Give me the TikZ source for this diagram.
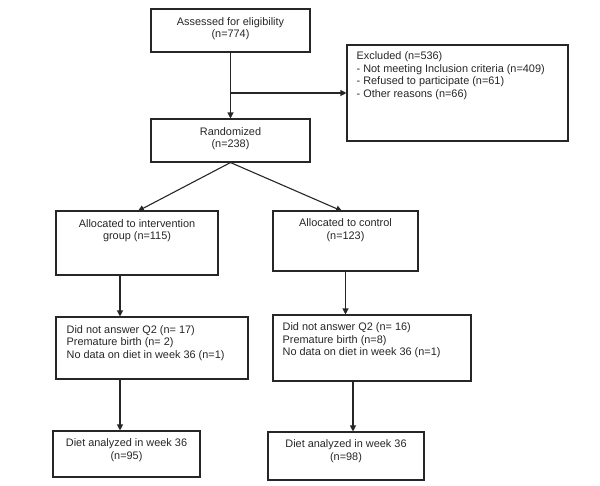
\documentclass[tikz,border=0pt]{standalone}
\usepackage{fontspec}
\setmainfont{Liberation Sans}
\usetikzlibrary{arrows.meta,positioning}
\begin{document}
\begin{tikzpicture}[x=1pt,y=-1pt,
  box/.style={draw=black!85,line width=1.1pt,rectangle,inner sep=0pt},
  txt/.style={inner sep=0pt,font=\fontsize{10.9}{12.5}\selectfont,text=black!85},
  ctxt/.style={txt,align=center},
  ltxt/.style={txt,align=left},
  conn/.style={draw=black!85,line width=1.1pt,-{Triangle[length=6pt,width=6pt]}}]
\useasboundingbox (0,0) rectangle (600,485);
% boxes
\node[box,minimum width=159pt,minimum height=43pt] (a) at (230.5,30.5) {};
\node[box,minimum width=221pt,minimum height=96pt] (ex) at (457.5,93) {};
\node[box,minimum width=159pt,minimum height=43pt] (r) at (230.5,140.5) {};
\node[box,minimum width=162pt,minimum height=64pt] (i) at (137,243) {};
\node[box,minimum width=145pt,minimum height=60pt] (c) at (345.5,241) {};
\node[box,minimum width=192pt,minimum height=62pt] (ql) at (152,348) {};
\node[box,minimum width=198pt,minimum height=66pt] (qr) at (372,348) {};
\node[box,minimum width=147pt,minimum height=46pt] (dl) at (126.5,454) {};
\node[box,minimum width=156pt,minimum height=48pt] (dr) at (346,456) {};
% texts
\node[ctxt,below=8.5pt of a.north] (ta) {Assessed for eligibility\\(n=774)};
\node[ltxt,anchor=north west] (tex) at ([xshift=10pt,yshift=-7pt]ex.north west) {Excluded (n=536)\\- Not meeting Inclusion criteria (n=409)\\- Refused to participate (n=61)\\- Other reasons (n=66)};
\node[ctxt,below=8.5pt of r.north] (tr) {Randomized\\(n=238)};
\node[ctxt,below=8.5pt of i.north] (ti) {Allocated to intervention\\group (n=115)};
\node[ctxt,below=8pt of c.north] (tc) {Allocated to control\\(n=123)};
\node[ltxt,anchor=north west] (tql) at ([xshift=11pt,yshift=-8.5pt]ql.north west) {Did not answer Q2 (n= 17)\\Premature birth (n= 2)\\No data on diet in week 36 (n=1)};
\node[ltxt,anchor=north west] (tqr) at ([xshift=10pt,yshift=-8pt]qr.north west) {Did not answer Q2 (n= 16)\\Premature birth (n=8)\\No data on diet in week 36 (n=1)};
\node[ctxt,below=8pt of dl.north] (tdl) {Diet analyzed in week 36\\(n=95)};
\node[ctxt,below=8pt of dr.north] (tdr) {Diet analyzed in week 36\\(n=98)};
% connectors
\coordinate (br) at (231,93);
\draw[conn] (a.south) -- (r.north);
\draw[conn] (br) -- (ex.west |- br);
\coordinate (ai) at (138,211);
\coordinate (ac) at (342,211);
\draw[conn] (r.south) -- (ai);
\draw[conn] (r.south) -- (ac);
\draw[conn] (i.south -| 120,0) -- (ql.north -| 120,0);
\draw[conn] (c.south) -- (qr.north -| c.south);
\draw[conn] (ql.south -| 120,0) -- (dl.north -| 120,0);
\draw[conn] (qr.south -| 353,0) -- (dr.north -| 353,0);
\end{tikzpicture}
\end{document}
